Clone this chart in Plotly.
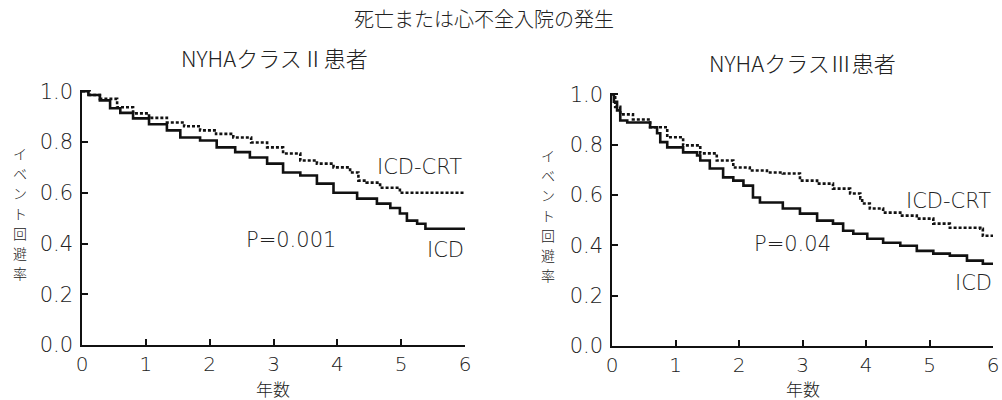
import plotly.graph_objects as go

# NYHA class II
t2_icd = [0, 0.10, 0.28, 0.44, 0.60, 0.80, 1.05, 1.33, 1.54, 1.85, 2.11, 2.40, 2.63, 2.90, 3.15, 3.42, 3.68, 3.94, 4.31, 4.62, 4.83, 4.98, 5.09, 5.25, 5.38, 6.0]
s2_icd = [1.0, 0.985, 0.964, 0.933, 0.915, 0.893, 0.870, 0.846, 0.818, 0.806, 0.779, 0.760, 0.739, 0.715, 0.680, 0.668, 0.636, 0.600, 0.577, 0.557, 0.540, 0.518, 0.490, 0.478, 0.458, 0.458]
t2_crt = [0, 0.12, 0.28, 0.55, 0.80, 1.05, 1.33, 1.60, 1.85, 2.10, 2.37, 2.65, 2.90, 3.15, 3.42, 3.68, 3.94, 4.20, 4.33, 4.46, 4.67, 4.98, 6.0]
s2_crt = [1.0, 0.985, 0.970, 0.937, 0.913, 0.895, 0.877, 0.862, 0.846, 0.832, 0.818, 0.798, 0.779, 0.755, 0.727, 0.715, 0.700, 0.680, 0.648, 0.640, 0.620, 0.600, 0.600]

# NYHA class III
t3_icd = [0, 0.03, 0.08, 0.13, 0.24, 0.44, 0.60, 0.71, 0.76, 0.87, 1.12, 1.34, 1.39, 1.54, 1.75, 1.91, 2.07, 2.22, 2.33, 2.69, 2.96, 3.23, 3.48, 3.64, 3.80, 4.02, 4.27, 4.54, 4.80, 5.06, 5.32, 5.59, 5.84, 6.0]
s3_icd = [1.0, 0.97, 0.936, 0.896, 0.888, 0.888, 0.869, 0.845, 0.810, 0.789, 0.769, 0.757, 0.737, 0.705, 0.670, 0.657, 0.637, 0.590, 0.570, 0.546, 0.526, 0.498, 0.486, 0.458, 0.446, 0.426, 0.410, 0.398, 0.378, 0.367, 0.359, 0.339, 0.327, 0.327]
t3_crt = [0, 0.05, 0.13, 0.33, 0.60, 0.87, 1.12, 1.39, 1.65, 1.91, 2.17, 2.44, 2.69, 2.96, 3.23, 3.48, 3.75, 3.91, 3.94, 4.06, 4.27, 4.54, 4.80, 5.06, 5.32, 5.80, 5.84, 6.0]
s3_crt = [1.0, 0.95, 0.920, 0.900, 0.869, 0.829, 0.797, 0.765, 0.737, 0.709, 0.697, 0.689, 0.685, 0.657, 0.645, 0.625, 0.606, 0.586, 0.566, 0.546, 0.530, 0.518, 0.506, 0.486, 0.470, 0.466, 0.438, 0.430]

x_ticks = [0, 1, 2, 3, 4, 5, 6]
y_ticks = [0.0, 0.2, 0.4, 0.6, 0.8, 1.0]
y_tick_text = ["0.0", "0.2", "0.4", "0.6", "0.8", "1.0"]
y_label = "イベント回避率"

JP = "Noto Sans CJK JP"
LAT = "DejaVu Sans"
BLACK = "#111111"
TXT = "#222222"

fig = go.Figure()
solid = dict(color=BLACK, width=2.6, shape="hv")
dashed = dict(color=BLACK, width=2.6, shape="hv", dash="3px,2px")
fig.add_trace(go.Scatter(x=t2_crt, y=s2_crt, mode="lines", line=dashed, xaxis="x", yaxis="y", showlegend=False))
fig.add_trace(go.Scatter(x=t2_icd, y=s2_icd, mode="lines", line=solid, xaxis="x", yaxis="y", showlegend=False))
fig.add_trace(go.Scatter(x=t3_crt, y=s3_crt, mode="lines", line=dashed, xaxis="x2", yaxis="y2", showlegend=False))
fig.add_trace(go.Scatter(x=t3_icd, y=s3_icd, mode="lines", line=solid, xaxis="x2", yaxis="y2", showlegend=False))

axis_common = dict(showgrid=False, zeroline=False, showline=True, linecolor=BLACK, linewidth=1.5,
                   ticks="inside", ticklen=6, tickwidth=1.5, tickcolor=BLACK, automargin=False)

xa = dict(axis_common, range=[0, 6], tickvals=x_ticks, ticktext=[str(v) for v in x_ticks],
          ticklabelstandoff=0, tickfont=dict(family=LAT, size=20, color=TXT, weight=200))
ya = dict(axis_common, range=[0, 1.005], tickvals=y_ticks, ticktext=y_tick_text,
          ticklabelstandoff=3, tickfont=dict(family=LAT, size=21, color=TXT, weight=200))

fig.update_layout(
    template="none",
    width=1002, height=400,
    margin=dict(l=0, r=0, t=0, b=0, pad=0),
    paper_bgcolor="white", plot_bgcolor="white",
    xaxis=dict(xa, domain=[82/1002, 465/1002], anchor="y"),
    yaxis=dict(ya, domain=[1-345/400, 1-90/400], anchor="x"),
    xaxis2=dict(xa, domain=[612/1002, 993/1002], anchor="y2"),
    yaxis2=dict(ya, domain=[1-346/400, 1-93/400], anchor="x2"),
)

ann = []
def A(text, x, y, size=17, xanchor="center", yanchor="middle", family=JP, weight=300):
    ann.append(dict(text=text, x=x/1002, y=1-y/400, xref="paper", yref="paper", showarrow=False,
                    xanchor=xanchor, yanchor=yanchor, borderpad=0,
                    font=dict(family=family, size=size, color=TXT, weight=weight)))

A("死亡または心不全入院の発生", 484, 18, 20)
A("NYHAクラスⅡ患者", 274, 57, 22)
A("NYHAクラスⅢ患者", 802, 62, 22)
A("年数", 273, 388, 17)
A("年数", 803, 388, 17)

# vertical (tategaki) y-axis labels, one character per line
char_y = [153, 173, 193, 213, 233, 253, 273]
for xc, dy in ((20, 0), (548, 2)):
    for ch, yc in zip(y_label, char_y):
        A(ch, xc, yc + dy, 14)

A("ICD-CRT", 463, 167, 21, xanchor="right", family=LAT, weight=200)
A("ICD", 465, 250, 21, xanchor="right", family=LAT, weight=200)
A("P=0.001", 291, 240, 21, family=LAT, weight=200)
A("ICD-CRT", 992, 201, 21, xanchor="right", family=LAT, weight=200)
A("ICD", 993, 283, 21, xanchor="right", family=LAT, weight=200)
A("P=0.04", 792, 244, 21, family=LAT, weight=200)
fig.update_layout(annotations=ann)

fig.write_html("out.html")
